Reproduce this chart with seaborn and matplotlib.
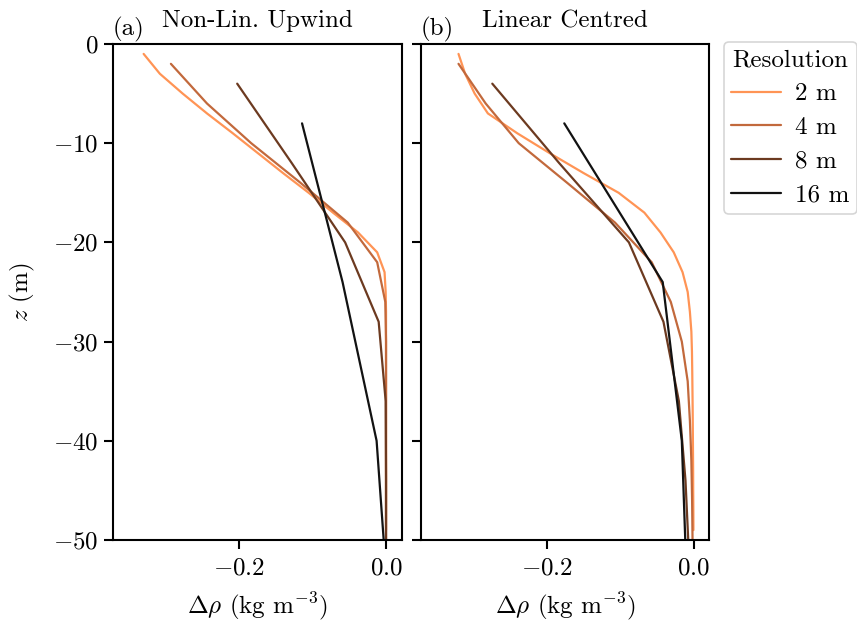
import pandas as pd
import seaborn as sns
import matplotlib.pyplot as plt

# depth of cell centres for each resolution (m)
z_2m = [-1, -3, -5, -7, -9, -11, -13, -15, -17, -19, -21, -23, -25,
        -27, -29, -31, -33, -35, -37, -39, -41, -43, -45, -47, -49]
z_4m = [-2, -6, -10, -14, -18, -22, -26, -30, -34, -38, -42, -46, -50]
z_8m = [-4, -12, -20, -28, -36, -44, -52]
z_16m = [-8, -24, -40, -56]

# (a) Non-Lin. Upwind
upw_2m = [-0.329, -0.307, -0.276, -0.243, -0.208, -0.174, -0.140, -0.105, -0.072,
          -0.038, -0.012, -0.002, -0.0005, 0.0, 0.0, 0.0, 0.0, 0.0, 0.0, 0.0,
          0.0, 0.0, 0.0, 0.0, 0.0]
upw_4m = [-0.292, -0.243, -0.183, -0.116, -0.052, -0.012, -0.001, 0.0, 0.0, 0.0,
          0.0, 0.0, 0.0]
upw_8m = [-0.202, -0.128, -0.0555, -0.010, -0.0005, 0.0, 0.0]
upw_16m = [-0.114, -0.059, -0.0128, 0.0026]

# (b) Linear Centred
cen_2m = [-0.320, -0.311, -0.298, -0.280, -0.240, -0.196, -0.150, -0.102, -0.067,
          -0.045, -0.027, -0.015, -0.008, -0.005, -0.003, -0.0022, -0.0018, -0.0015,
          -0.0012, -0.0010, -0.0008, -0.0006, -0.0005, -0.0003, -0.0002]
cen_4m = [-0.320, -0.283, -0.238, -0.172, -0.107, -0.057, -0.031, -0.016, -0.008,
          -0.005, -0.003, -0.002, -0.0014]
cen_8m = [-0.274, -0.183, -0.088, -0.041, -0.020, -0.011, -0.006]
cen_16m = [-0.176, -0.042, -0.016, -0.0085]

labels = ["2 m", "4 m", "8 m", "16 m"]
colors = ["#ff9455", "#c2693c", "#6c3a20", "#121212"]
palette = dict(zip(labels, colors))


def make_frame(series):
    rows = []
    for lab, z, vals in zip(labels, [z_2m, z_4m, z_8m, z_16m], series):
        for zz, v in zip(z, vals):
            rows.append({"Resolution": lab, "z": zz, "drho": v})
    return pd.DataFrame(rows)


df_a = make_frame([upw_2m, upw_4m, upw_8m, upw_16m])
df_b = make_frame([cen_2m, cen_4m, cen_8m, cen_16m])

fs = 18
sns.set_theme(style="ticks")
plt.rcParams["font.family"] = ["cmr10", "DejaVu Serif"]
plt.rcParams["mathtext.fontset"] = "cm"
plt.rcParams["axes.formatter.use_mathtext"] = True
plt.rcParams["font.size"] = fs
plt.rcParams["axes.linewidth"] = 1.5
plt.rcParams["axes.edgecolor"] = "black"
plt.rcParams["text.color"] = "black"
plt.rcParams["axes.labelcolor"] = "black"
plt.rcParams["xtick.color"] = "black"
plt.rcParams["ytick.color"] = "black"

fig = plt.figure(figsize=(8.57, 6.23), dpi=100)
ax_a = fig.add_axes([0.1315, 0.1332, 0.337, 0.7962])
ax_b = fig.add_axes([0.4913, 0.1332, 0.336, 0.7962], sharey=ax_a)

for ax, df, title, tag in [(ax_a, df_a, "Non-Lin. Upwind", "(a)"),
                           (ax_b, df_b, "Linear Centred", "(b)")]:
    sns.lineplot(data=df, x="drho", y="z", hue="Resolution", palette=palette,
                 hue_order=labels, sort=False, estimator=None, linewidth=1.6,
                 legend=False, ax=ax)
    ax.set_xlim(-0.371, 0.021)
    ax.set_ylim(-50, 0)
    ax.set_xticks([-0.2, 0.0])
    ax.set_yticks([0, -10, -20, -30, -40, -50])
    ax.tick_params(axis="both", labelsize=fs, length=6.5, width=1.5)
    ax.tick_params(axis="x", pad=6)
    ax.set_xlabel(r"$\Delta\rho$ (kg m$^{-3}$)", fontsize=fs, labelpad=8)
    ax.set_title(title, fontsize=fs, pad=12)
    ax.text(0.0, 1.004, tag, transform=ax.transAxes, ha="left", va="bottom", fontsize=fs)

ax_a.set_ylabel(r"$z$ (m)", fontsize=fs, labelpad=12)
ax_b.set_ylabel("")
ax_b.tick_params(axis="y", labelleft=False)

handles = [plt.Line2D([], [], color=c, linewidth=1.6) for c in colors]
leg = ax_b.legend(handles, labels, title="Resolution", loc="upper left",
                  bbox_to_anchor=(1.052, 1.004), borderaxespad=0, fontsize=fs,
                  title_fontsize=fs, handlelength=2.0, handletextpad=0.55,
                  labelspacing=0.45, borderpad=0.3, frameon=True, fancybox=True)
leg.get_frame().set_edgecolor("#cccccc")
leg.get_frame().set_linewidth(1.2)

fig.savefig("out.png", dpi=100)
